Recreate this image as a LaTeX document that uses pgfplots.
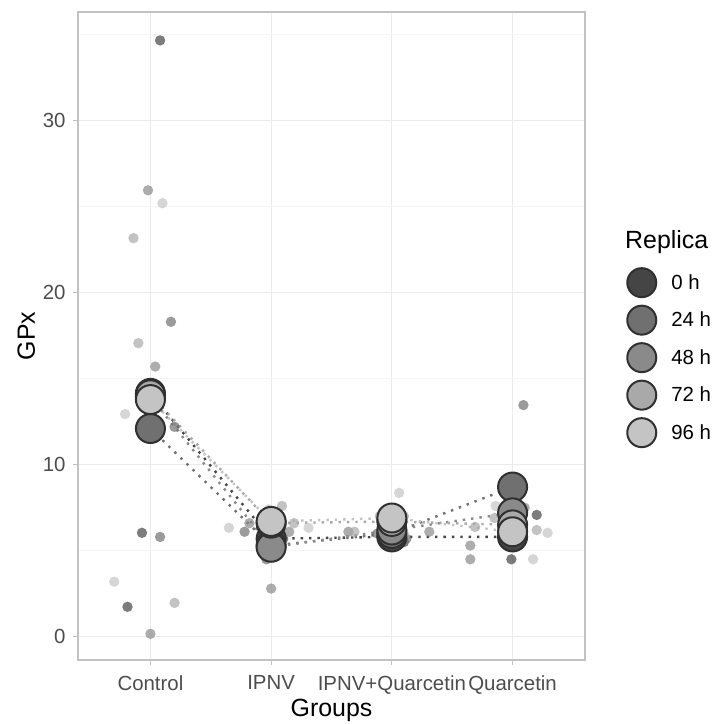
\documentclass[border=0pt]{standalone}
\usepackage{fontspec}
\setmainfont{Liberation Sans}
\usepackage{pgfplots}
\pgfplotsset{compat=1.18}
\definecolor{cA}{HTML}{454545}
\definecolor{cB}{HTML}{707070}
\definecolor{cC}{HTML}{8A8A8A}
\definecolor{cD}{HTML}{A9A9A9}
\definecolor{cE}{HTML}{C4C4C4}
\definecolor{outl}{HTML}{303030}
\definecolor{gridc}{HTML}{EBEBEB}
\definecolor{gridm}{HTML}{F5F5F5}
\definecolor{bord}{HTML}{C2C2C2}
\definecolor{tickl}{HTML}{4D4D4D}
\pgfplotsset{
  small/.style={only marks, mark=*, mark size=5.2bp, color=#1, draw opacity=0,
     mark options={draw opacity=0, fill=#1, fill opacity=0.7}, forget plot},
  big/.style={only marks, mark=*, mark size=14.5bp, mark options={fill=#1, draw=outl, line width=2bp}},
  conn/.style={draw=#1, line width=2.4bp, dash pattern=on 2.4bp off 6bp, forget plot},
}
\begin{document}
\begin{tikzpicture}
\begin{axis}[
  scale only axis, width=507bp, height=648bp,
  xmin=0.4, xmax=4.6, ymin=-1.35, ymax=36.3,
  xtick={1,2,3,4}, xticklabels={Control,IPNV,IPNV+Quarcetin,Quarcetin},
  ytick={0,10,20,30}, minor ytick={5,15,25,35},
  grid=both,
  major grid style={draw=gridc, line width=1.1bp},
  minor grid style={draw=gridm, line width=0.6bp},
  axis line style={draw=bord, line width=1.2bp},
  tick align=outside, tick pos=left,
  major tick length=5bp, minor tick length=0pt,
  every tick/.style={draw=bord, line width=1.1bp},
  tick label style={font=\fontsize{20.5}{24}\selectfont, text=tickl},
  xticklabel style={yshift=-7bp},
  yticklabel style={xshift=-4bp},
  /pgf/number format/assume math mode=true,
  xlabel={Groups}, ylabel={GPx},
  label style={font=\fontsize{25}{30}\selectfont},
  xlabel style={at={(axis description cs:0.5,-0.078)}, anchor=center},
  ylabel style={at={(axis description cs:-0.102,0.5)}, anchor=center},
  legend style={at={(axis description cs:1.083,0.605)}, anchor=north west, draw=none, fill=none, inner sep=0pt,
    font=\fontsize{20.5}{24}\selectfont, row sep=8.5bp, column sep=13bp, legend cell align=left},
  legend image code/.code={\path[#1] plot coordinates {(16bp,0bp)};},
  clip=false,
]
% connecting dotted lines (group means per replica)
\addplot[conn=cA] coordinates {(1,14.14) (2,5.7) (3,5.8) (4,5.8)};
\addplot[conn=cB] coordinates {(1,12.1) (2,5.3) (3,6.0) (4,8.7)};
\addplot[conn=cC] coordinates {(1,13.94) (2,5.2) (3,6.2) (4,7.2)};
\addplot[conn=cD] coordinates {(1,14.06) (2,6.6) (3,6.7) (4,6.5)};
\addplot[conn=cE] coordinates {(1,13.78) (2,6.7) (3,6.9) (4,6.1)};
% individual observations (jittered)
\addplot[small=cA] coordinates {(1.08,34.65) (0.93,6.04) (0.81,1.74) (2.04,5.9) (1.95,5.5) (2.10,5.7) (2.98,5.6) (3.10,5.5) (3.05,6.3) (3.99,4.5) (4.20,7.08) (4.00,5.8)};
\addplot[small=cB] coordinates {(1.17,18.3) (1.20,12.2) (1.08,5.8) (1.78,6.1) (1.96,4.5) (2.05,5.3) (2.88,6.0) (3.12,5.7) (3.00,6.3) (4.09,13.46) (3.95,6.5) (4.05,6.1)};
\addplot[small=cC] coordinates {(0.98,25.94) (1.04,15.7) (1.00,0.17) (2.15,6.1) (2.00,2.8) (1.82,6.6) (2.64,6.1) (3.31,6.1) (3.00,6.4) (3.65,5.3) (3.65,4.5) (4.10,7.5)};
\addplot[small=cD] coordinates {(0.86,23.16) (0.90,17.06) (1.20,1.97) (2.09,7.6) (2.19,6.6) (2.00,5.6) (2.69,6.1) (3.10,7.0) (2.90,7.0) (3.69,6.38) (3.85,6.9) (4.20,6.2)};
\addplot[small=cE] coordinates {(1.10,25.19) (0.79,12.94) (0.70,3.2) (2.31,6.33) (1.65,6.33) (1.98,7.4) (3.06,8.36) (2.95,6.3) (3.10,6.0) (4.29,6.04) (4.17,4.5) (3.86,7.6)};
% group means
\addplot[big=cA] coordinates {(1,14.14) (2,5.7) (3,5.8) (4,5.8)};
\addlegendentry{0 h}
\addplot[big=cB] coordinates {(1,12.1) (2,5.3) (3,6.0) (4,8.7)};
\addlegendentry{24 h}
\addplot[big=cC] coordinates {(1,13.94) (2,5.2) (3,6.2) (4,7.2)};
\addlegendentry{48 h}
\addplot[big=cD] coordinates {(1,14.06) (2,6.6) (3,6.7) (4,6.5)};
\addlegendentry{72 h}
\addplot[big=cE] coordinates {(1,13.78) (2,6.7) (3,6.9) (4,6.1)};
\addlegendentry{96 h}
\node[anchor=west, font=\fontsize{25}{30}\selectfont, inner sep=0pt] at (axis description cs:1.079,0.645) {Replica};
\end{axis}
\pgfresetboundingbox
\path[use as bounding box] (-78bp,-64bp) rectangle (638bp,660bp);
\end{tikzpicture}
\end{document}
